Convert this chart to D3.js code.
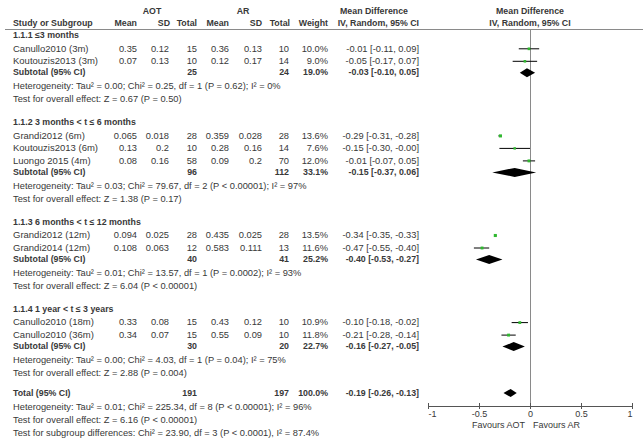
<!DOCTYPE html>
<html><head><meta charset="utf-8">
<script src="https://cdn.jsdelivr.net/npm/d3@7"></script>
<style>
body{margin:0;background:#fff}
svg{display:block}
text{font-family:"Liberation Sans",Arial,sans-serif;font-size:9.3px;fill:#383838}
text.b{font-weight:bold;font-size:8.8px}
text.nm{font-size:9.5px}
text.ax{font-size:9px}
</style>
</head><body>
<svg id="c" width="643" height="439"></svg>
<script>
// ---------- DATA ----------
const groupNames = ["1.1.1 \u22643 months", "1.1.2 3 months < t \u2264 6 months", "1.1.3 6 months < t \u2264 12 months", "1.1.4 1 year < t \u2264 3 years"];
const studyNames = ["Canullo2010 (3m)", "Koutouzis2013 (3m)", "Grandi2012 (6m)", "Koutouzis2013 (6m)", "Luongo 2015 (4m)", "Grandi2012 (12m)", "Grandi2014 (12m)", "Canullo2010 (18m)", "Canullo2010 (36m)"];
const studyGroup = [0, 0, 1, 1, 1, 2, 2, 3, 3];
const aotMean = [0.35, 0.07, 0.065, 0.13, 0.08, 0.094, 0.108, 0.33, 0.34];
const aotSD = [0.12, 0.13, 0.018, 0.2, 0.16, 0.025, 0.063, 0.08, 0.07];
const aotN = [15, 10, 28, 10, 58, 28, 12, 15, 15];
const arMean = [0.36, 0.12, 0.359, 0.28, 0.09, 0.435, 0.583, 0.43, 0.55];
const arSD = [0.13, 0.17, 0.028, 0.16, 0.2, 0.025, 0.111, 0.12, 0.09];
const arN = [10, 14, 28, 14, 70, 28, 13, 10, 10];
const studyWeight = [10.0, 9.0, 13.6, 7.6, 12.0, 13.5, 11.6, 10.9, 11.8];
const studyMD = [-0.01, -0.05, -0.29, -0.15, -0.01, -0.34, -0.47, -0.10, -0.21];
const studyLo = [-0.11, -0.17, -0.31, -0.30, -0.07, -0.35, -0.55, -0.18, -0.28];
const studyHi = [0.09, 0.07, -0.28, -0.00, 0.05, -0.33, -0.40, -0.02, -0.14];

const subAotN = [25, 96, 40, 30];
const subArN = [24, 112, 41, 20];
const subWeight = [19.0, 33.1, 25.2, 22.7];
const subMD = [-0.03, -0.15, -0.40, -0.16];
const subLo = [-0.10, -0.37, -0.53, -0.27];
const subHi = [0.05, 0.06, -0.27, -0.05];
const subHet = [
  "Heterogeneity: Tau\u00b2 = 0.00; Chi\u00b2 = 0.25, df = 1 (P = 0.62); I\u00b2 = 0%",
  "Heterogeneity: Tau\u00b2 = 0.03; Chi\u00b2 = 79.67, df = 2 (P < 0.00001); I\u00b2 = 97%",
  "Heterogeneity: Tau\u00b2 = 0.01; Chi\u00b2 = 13.57, df = 1 (P = 0.0002); I\u00b2 = 93%",
  "Heterogeneity: Tau\u00b2 = 0.00; Chi\u00b2 = 4.03, df = 1 (P = 0.04); I\u00b2 = 75%"
];
const subEffect = [
  "Test for overall effect: Z = 0.67 (P = 0.50)",
  "Test for overall effect: Z = 1.38 (P = 0.17)",
  "Test for overall effect: Z = 6.04 (P < 0.00001)",
  "Test for overall effect: Z = 2.88 (P = 0.004)"
];
const totalN = [191, 197];
const totalWeight = 100.0;
const totalEffect = [-0.19, -0.26, -0.13]; // md, lo, hi
const totalNotes = [
  "Heterogeneity: Tau\u00b2 = 0.01; Chi\u00b2 = 225.34, df = 8 (P < 0.00001); I\u00b2 = 96%",
  "Test for overall effect: Z = 6.16 (P < 0.00001)",
  "Test for subgroup differences: Chi\u00b2 = 23.90, df = 3 (P < 0.0001), I\u00b2 = 87.4%"
];
const xTicks = [-1, -0.5, 0, 0.5, 1];
const favours = ["Favours AOT", "Favours AR"];

// ---------- LAYOUT ----------
const svg = d3.select("#c");
const x = d3.scaleLinear().domain([-1, 1]).range([428, 632]);
const col = {study: 13, aotMean: 137, aotSD: 169, aotN: 197, arMean: 229, arSD: 262, arN: 289, weight: 328, ci: 419};
const green = "#30b830";
const lineGray = "#8a8a8a";

const f2 = v => ((v < 0 || Object.is(v, -0)) ? "-" : "") + Math.abs(v).toFixed(2);
const ciText = (m, l, h) => `${f2(m)} [${f2(l)}, ${f2(h)}]`;

function txt(xp, y, s, anchor, bold, cls) {
  svg.append("text").attr("x", xp).attr("y", y).attr("dy", "0.35em")
    .attr("class", bold ? "b" : (cls || null))
    .attr("text-anchor", anchor || "start").text(s);
}

// headers
txt(152, 11, "AOT", "middle", true);
txt(243, 11, "AR", "middle", true);
txt(374, 11, "Mean Difference", "middle", true);
txt(530, 11, "Mean Difference", "middle", true);
txt(col.study, 23, "Study or Subgroup", "start", true);
txt(col.aotMean, 23, "Mean", "end", true);
txt(170, 23, "SD", "end", true);
txt(col.aotN, 23, "Total", "end", true);
txt(col.arMean, 23, "Mean", "end", true);
txt(col.arSD, 23, "SD", "end", true);
txt(290, 23, "Total", "end", true);
txt(col.weight, 23, "Weight", "end", true);
txt(col.ci, 23, "IV, Random, 95% CI", "end", true);
txt(530, 23, "IV, Random, 95% CI", "middle", true);

svg.append("line").attr("x1", 5).attr("x2", 643).attr("y1", 29.5).attr("y2", 29.5)
  .attr("stroke", lineGray).attr("stroke-width", 1);

const axisY = 406;
svg.append("line").attr("x1", x(0) + 0.5).attr("x2", x(0) + 0.5).attr("y1", 29.5).attr("y2", axisY)
  .attr("stroke", lineGray).attr("stroke-width", 1);

function diamond(y, m, l, h, hh) {
  const pts = [[x(l), y], [x(m), y - hh], [x(h), y], [x(m), y + hh]];
  svg.append("path").attr("d", "M" + pts.map(p => p.join(",")).join("L") + "Z").attr("fill", "#000");
}

let y = 35;
groupNames.forEach((g, gi) => {
  txt(col.study, y, g, "start", true);
  y += 13.3;
  const idx = studyGroup.map((v, i) => v === gi ? i : -1).filter(i => i >= 0);
  idx.forEach((i, k) => {
    if (k > 0) y += 12.5;
    txt(col.study, y, studyNames[i], "start", false, "nm");
    txt(col.aotMean, y, String(aotMean[i]), "end");
    txt(col.aotSD, y, String(aotSD[i]), "end");
    txt(col.aotN, y, String(aotN[i]), "end");
    txt(col.arMean, y, String(arMean[i]), "end");
    txt(col.arSD, y, String(arSD[i]), "end");
    txt(col.arN, y, String(arN[i]), "end");
    txt(col.weight, y, studyWeight[i].toFixed(1) + "%", "end");
    txt(col.ci, y, ciText(studyMD[i], studyLo[i], studyHi[i]), "end");
    svg.append("line").attr("x1", x(studyLo[i])).attr("x2", x(studyHi[i]))
      .attr("y1", y + 0.5).attr("y2", y + 0.5).attr("stroke", "#000").attr("stroke-width", 1);
    const s = 1.6 + studyWeight[i] * 0.11;
    svg.append("rect").attr("x", x(studyMD[i]) - s / 2).attr("y", y + 0.5 - s / 2)
      .attr("width", s).attr("height", s).attr("fill", green);
  });
  y += 11.5;
  txt(col.study, y, "Subtotal (95% CI)", "start", true);
  txt(col.aotN, y, String(subAotN[gi]), "end", true);
  txt(col.arN, y, String(subArN[gi]), "end", true);
  txt(col.weight, y, subWeight[gi].toFixed(1) + "%", "end", true);
  txt(col.ci, y, ciText(subMD[gi], subLo[gi], subHi[gi]), "end", true);
  diamond(y + 0.5, subMD[gi], subLo[gi], subHi[gi], 4.5);
  y += 13.5;
  txt(col.study, y, subHet[gi]);
  y += 13;
  txt(col.study, y, subEffect[gi]);
  y += 23.3;
});

y = 393;
txt(col.study, y, "Total (95% CI)", "start", true);
txt(col.aotN, y, String(totalN[0]), "end", true);
txt(col.arN, y, String(totalN[1]), "end", true);
txt(col.weight, y, totalWeight.toFixed(1) + "%", "end", true);
txt(col.ci, y, ciText(totalEffect[0], totalEffect[1], totalEffect[2]), "end", true);
diamond(y, totalEffect[0], totalEffect[1], totalEffect[2], 4);
totalNotes.forEach((n, k) => txt(col.study, 407 + k * 12.8, n));

// axis
const ax = svg.append("g").attr("transform", `translate(0,${axisY})`)
  .call(d3.axisBottom(x).tickValues(xTicks).tickSize(3).tickSizeOuter(0).tickFormat(d => String(d)));
ax.select(".domain").attr("stroke", "#555");
ax.selectAll(".tick line").attr("y1", -3).attr("y2", 3).attr("stroke", "#555");
ax.selectAll(".tick text").attr("y", 4.5).attr("class", "ax").attr("font-size", null)
  .attr("font-family", null).attr("fill", null)
  .attr("text-anchor", (d, i) => i === 0 ? "start" : (i === xTicks.length - 1 ? "end" : "middle"));
ax.attr("font-size", null).attr("font-family", null);
svg.append("text").attr("class", "ax").attr("x", x(0) - 5).attr("y", 425).attr("dy", "0.35em").attr("text-anchor", "end").text(favours[0]);
svg.append("text").attr("class", "ax").attr("x", x(0) + 3).attr("y", 425).attr("dy", "0.35em").attr("text-anchor", "start").text(favours[1]);
</script>
</body></html>
